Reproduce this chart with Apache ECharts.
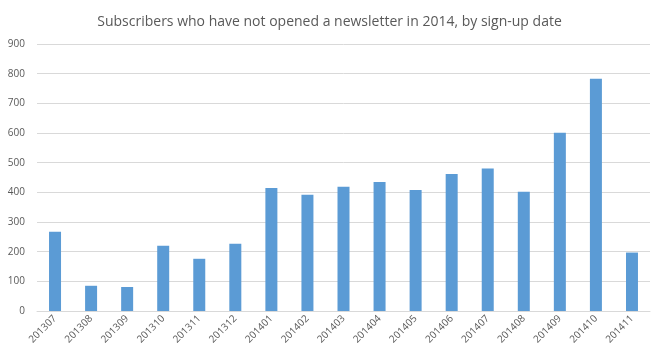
<!DOCTYPE html>
<html><head><meta charset="utf-8">
<script src="https://cdn.jsdelivr.net/npm/echarts@6/dist/echarts.min.js"></script>
<style>html,body{margin:0;padding:0;background:#fff}#c{width:659px;height:361px}</style>
</head><body><div id="c"></div>
<script>
const categories = ['201307','201308','201309','201310','201311','201312','201401','201402','201403','201404','201405','201406','201407','201408','201409','201410','201411'];
const values = [267, 85, 81, 220, 176, 227, 415, 392, 419, 435, 408, 462, 480, 402, 601, 783, 197];
const titleText = 'Subscribers who have not opened a newsletter in 2014, by sign-up date';
const chart = echarts.init(document.getElementById('c'), null, {renderer:'canvas'});
chart.setOption({
  animation:false,
  backgroundColor:'#fff',
  title:{text:titleText,left:'center',top:10,textStyle:{fontFamily:'Open Sans',fontSize:14,fontWeight:'normal',color:'#595959'}},
  grid:{left:37,right:9,top:44,bottom:50},
  xAxis:{type:'category',data:categories,
    axisLine:{lineStyle:{color:'#d9d9d9'}},axisTick:{show:false},
    axisLabel:{rotate:45,fontFamily:'Open Sans',fontSize:10,color:'#595959',margin:6,interval:0}},
  yAxis:{type:'value',min:0,max:900,interval:100,
    axisLine:{show:false},axisTick:{show:false},
    splitLine:{lineStyle:{color:'#d9d9d9'}},
    axisLabel:{fontFamily:'Open Sans',fontSize:10,color:'#595959',margin:12}},
  series:[{type:'bar',data:values,barWidth:12,itemStyle:{color:'#5b9bd5'}}]
});
</script></body></html>
